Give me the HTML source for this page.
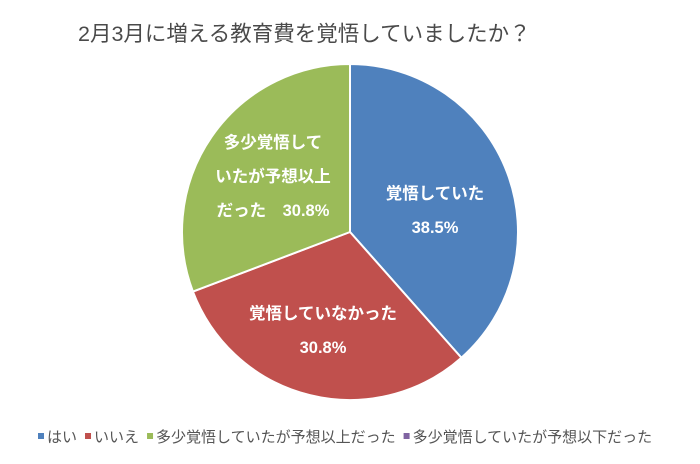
<!DOCTYPE html>
<html><head><meta charset="utf-8"><style>
body{margin:0;background:#fff;width:700px;height:459px;overflow:hidden;font-family:"Liberation Sans","Noto Sans CJK JP",sans-serif}
</style></head><body>
<svg width="700" height="459" viewBox="0 0 700 459" font-family="'Liberation Sans','Noto Sans CJK JP',sans-serif">
<text x="78" y="41" font-size="21.5" fill="#4a4a4a">2月3月に増える教育費を覚悟していましたか？</text>
<g id="slices"></g>
<g id="labels" font-weight="bold" font-size="16.5" fill="#fff" text-anchor="middle"></g>
<g id="legend" font-size="15" fill="#555"></g>
</svg>
<script>
const categories=["はい","いいえ","多少覚悟していたが予想以上だった","多少覚悟していたが予想以下だった"];
const values=[38.5,30.8,30.8,0];
const colors=["#4F81BD","#C0504D","#9BBB59","#8064A2"];
const labelLines=[["覚悟していた","38.5%"],["覚悟していなかった","30.8%"],["多少覚悟して","いたが予想以上","だった　30.8%"],[]];
const labelPos=[[435,210],[323,330],[273,176]];
const cx=350,cy=232,r=168;
const total=values.reduce((a,b)=>a+b,0);
const ns="http://www.w3.org/2000/svg";
const sg=document.getElementById('slices'),lg=document.getElementById('labels'),leg=document.getElementById('legend');
function pt(a,rad){return [cx+rad*Math.sin(a),cy-rad*Math.cos(a)];}
let acc=0;
values.forEach((v,i)=>{
  const a0=acc/total*2*Math.PI;acc+=v;const a1=acc/total*2*Math.PI;
  if(v>0){
    const p0=pt(a0,r),p1=pt(a1,r);
    const p=document.createElementNS(ns,'path');
    p.setAttribute('d',`M${cx},${cy}L${p0[0]},${p0[1]}A${r},${r} 0 ${a1-a0>Math.PI?1:0} 1 ${p1[0]},${p1[1]}Z`);
    p.setAttribute('fill',colors[i]);p.setAttribute('stroke','#fff');p.setAttribute('stroke-width','2');
    
    
    sg.appendChild(p);
    const c=labelPos[i]||pt((a0+a1)/2,r*0.6);
    const lines=labelLines[i];
    lines.forEach((t,j)=>{
      const tx=document.createElementNS(ns,'text');
      tx.setAttribute('x',c[0]);tx.setAttribute('y',c[1]+(j-(lines.length-1)/2)*34+6);
      tx.textContent=t;
      
      
      lg.appendChild(tx);
    });
  }
});
let lx=38;
categories.forEach((c,i)=>{
  const g=document.createElementNS(ns,'g');
  
  
  const s=document.createElementNS(ns,'rect');
  s.setAttribute('x',lx);s.setAttribute('y',433);s.setAttribute('width',6);s.setAttribute('height',6);s.setAttribute('fill',colors[i]);
  const t=document.createElementNS(ns,'text');
  t.setAttribute('x',lx+9);t.setAttribute('y',442);t.textContent=c;
  g.appendChild(s);g.appendChild(t);leg.appendChild(g);
  lx+=9+t.getComputedTextLength()+8;
});
</script>
</body></html>
